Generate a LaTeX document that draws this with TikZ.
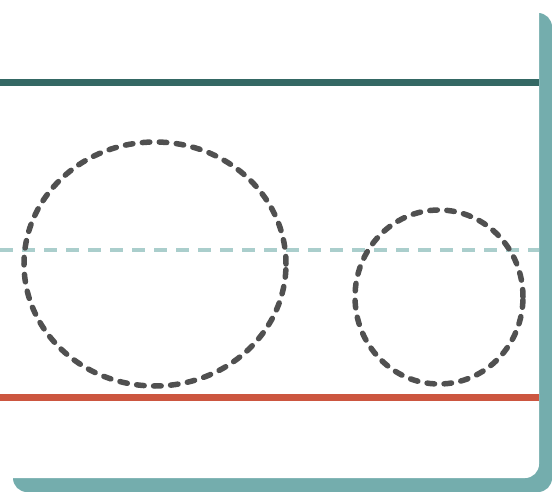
\documentclass[tikz,border=0pt]{standalone}
\usetikzlibrary{shapes.geometric}
\definecolor{darkteal}{RGB}{52,104,100}
\definecolor{paleteal}{RGB}{170,206,204}
\definecolor{shadowteal}{RGB}{116,173,173}
\definecolor{brickred}{RGB}{204,86,64}
\definecolor{ringgray}{RGB}{80,80,80}
\begin{document}
\begin{tikzpicture}[x=1pt,y=-1pt]
        		\tikzstyle{card}=[rounded corners=14pt]
        		\tikzstyle{ring}=[draw=ringgray,line width=5.5pt,line cap=round,dash pattern=on 7.5pt off 9.5pt]
        		\tikzstyle{rail}=[line width=7pt]
        		\useasboundingbox (0,0) rectangle (552,492);
       			\begin{scope}
         			\fill [card,shadowteal] (13,13) rectangle (552,492);
         			\fill [card,white] (-20,-20) rectangle (539,478);
         			\coordinate (t1) at (0,83);
         			\coordinate (t2) at (539,83);
         			\coordinate (m1) at (0,250);
         			\coordinate (m2) at (539,250);
         			\coordinate (b1) at (0,397);
         			\coordinate (b2) at (539,397);
         			\draw [rail,darkteal] (t1) -- (t2);
         			\draw [line width=4.5pt,paleteal,dash pattern=on 13pt off 9pt] (m1) -- (m2);
         			\draw [rail,brickred] (b1) -- (b2);
         			\node [ring,ellipse,inner sep=0pt,minimum width=262pt,minimum height=244pt] (big) at (155,264) {};
         			\node [ring,ellipse,inner sep=0pt,minimum width=168pt,minimum height=174pt] (small) at (439,297) {};
        		\end{scope}
      		\end{tikzpicture}
\end{document}
